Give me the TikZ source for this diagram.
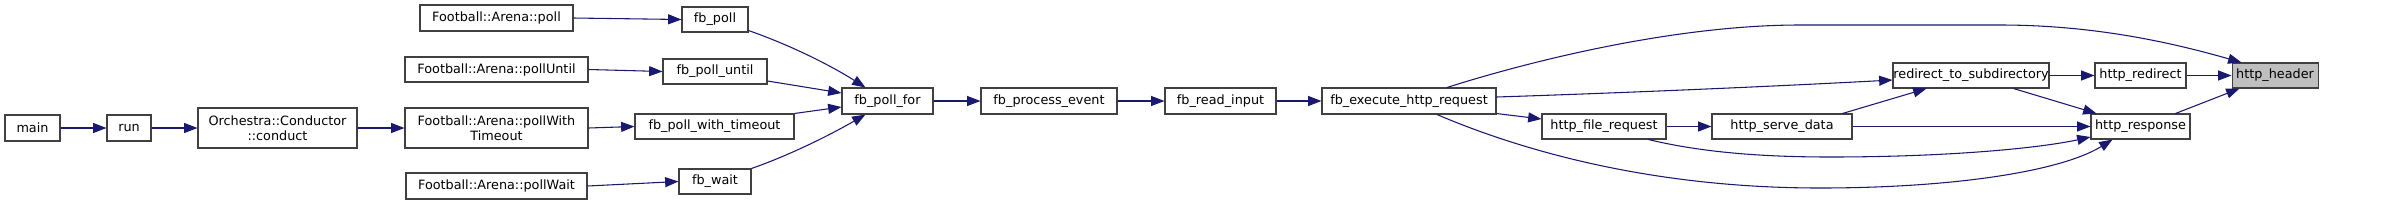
\documentclass[tikz,border=0pt]{standalone}
\usepackage{fontspec}
\setmainfont{DejaVu Sans}
\usetikzlibrary{arrows.meta,calc}
\definecolor{edgeblue}{HTML}{191970}
\definecolor{boxline}{HTML}{404040}
\definecolor{hlfill}{HTML}{BFBFBF}
\tikzset{
  fn/.style={draw=boxline, line width=0.8pt, fill=white, inner sep=0pt, align=center,
    font=\fontsize{9.6}{11.2}\selectfont},
  call/.style={draw=edgeblue, line width=0.8pt, -{Triangle[length=10pt,width=7.5pt]}},
}
\begin{document}
\begin{tikzpicture}[x=0.75pt,y=-0.75pt]
\useasboundingbox (0,0) rectangle (2404,205);
% nodes
\node[fn, minimum width=55*0.75pt, minimum height=26*0.75pt] (main) at (32.5,128) {main};
\node[fn, minimum width=44*0.75pt, minimum height=26*0.75pt] (run) at (129,128) {run};
\node[fn, minimum width=159*0.75pt, minimum height=40*0.75pt] (conduct) at (277.5,128) {Orchestra::Conductor\\::conduct};
\node[fn, minimum width=153*0.75pt, minimum height=26*0.75pt] (apoll) at (496.5,18) {Football::Arena::poll};
\node[fn, minimum width=66*0.75pt, minimum height=25*0.75pt] (fbpoll) at (715,19.5) {fb\_poll};
\node[fn, minimum width=183*0.75pt, minimum height=25*0.75pt] (auntil) at (496.5,69.5) {Football::Arena::pollUntil};
\node[fn, minimum width=104*0.75pt, minimum height=25*0.75pt] (fbuntil) at (715,71.5) {fb\_poll\_until};
\node[fn, minimum width=183*0.75pt, minimum height=40*0.75pt] (atimeout) at (496.5,128) {Football::Arena::pollWith\\Timeout};
\node[fn, minimum width=159*0.75pt, minimum height=25*0.75pt] (fbtimeout) at (714.5,126.5) {fb\_poll\_with\_timeout};
\node[fn, minimum width=181*0.75pt, minimum height=26*0.75pt] (await) at (496.5,186) {Football::Arena::pollWait};
\node[fn, minimum width=72*0.75pt, minimum height=25*0.75pt] (fbwait) at (715,181.5) {fb\_wait};
\node[fn, minimum width=91*0.75pt, minimum height=26*0.75pt] (fbfor) at (887.5,101) {fb\_poll\_for};
\node[fn, minimum width=136*0.75pt, minimum height=26*0.75pt] (fbproc) at (1049,101) {fb\_process\_event};
\node[fn, minimum width=111*0.75pt, minimum height=26*0.75pt] (fbread) at (1220.5,101) {fb\_read\_input};
\node[fn, minimum width=174*0.75pt, minimum height=26*0.75pt] (fbexec) at (1409,101) {fb\_execute\_http\_request};
\node[fn, minimum width=124*0.75pt, minimum height=25*0.75pt] (hfile) at (1604,126.5) {http\_file\_request};
\node[fn, minimum width=140*0.75pt, minimum height=25*0.75pt] (hserve) at (1782,126.5) {http\_serve\_data};
\node[fn, minimum width=156*0.75pt, minimum height=25*0.75pt] (redir) at (1971,75.5) {redirect\_to\_subdirectory};
\node[fn, minimum width=91*0.75pt, minimum height=25*0.75pt] (hredir) at (2140.5,75.5) {http\_redirect};
\node[fn, fill=hlfill, minimum width=86*0.75pt, minimum height=25*0.75pt] (hheader) at (2275,75.5) {http\_header};
\node[fn, minimum width=99*0.75pt, minimum height=25*0.75pt] (hresp) at (2140.5,126.5) {http\_response};
% edges
\draw[call] (main) -- (run);
\draw[call] (run) -- (conduct);
\draw[call] (conduct) -- (atimeout);
\draw[call] (apoll.east) -- (fbpoll.west);
\draw[call] (auntil.east) -- (fbuntil.west);
\draw[call] (atimeout.east) -- (fbtimeout.west);
\draw[call] (await.east) -- (fbwait.west);
\draw[call] ($(fbpoll.south east)+(0,-2)$) .. controls (790,45) and (830,65) .. ($(fbfor.north west)+(24,0)$);
\draw[call] ($(fbuntil.east)+(0,9.5)$) -- ($(fbfor.west)+(0,-8)$);
\draw[call] (fbtimeout.north east) -- ($(fbfor.west)+(0,6)$);
\draw[call] (fbwait.north east) .. controls (790,155) and (830,135) .. ($(fbfor.south west)+(24,0)$);
\draw[call] (fbfor) -- (fbproc);
\draw[call] (fbproc) -- (fbread);
\draw[call] (fbread) -- (fbexec);
\draw[call] ($(fbexec.north)+(38,0)$) .. controls (1540,58) and (1680,25) .. (1800,25) -- (2000,25) .. controls (2100,25) and (2180,45) .. ($(hheader.north west)+(10,0)$);
\draw[call] ($(fbexec.east)+(0,-4)$) .. controls (1650,92) and (1800,85) .. ($(redir.west)+(0,4.5)$);
\draw[call] ($(fbexec.south east)+(0,-1)$) -- ($(hfile.west)+(0,-7.5)$);
\draw[call] ($(fbexec.south)+(28,0)$) .. controls (1520,150) and (1650,188) .. (1820,188) .. controls (1950,188) and (2060,172) .. ($(hresp.south west)+(22,0)$);
\draw[call] (hfile) -- (hserve);
\draw[call] ($(hfile.south east)+(-18,0)$) .. controls (1700,152) and (1760,157) .. (1830,157) .. controls (1950,157) and (2040,148) .. ($(hresp.west)+(0,10.5)$);
\draw[call] ($(hserve.north east)+(-10,0)$) -- ($(redir.south west)+(34,0)$);
\draw[call] (hserve) -- (hresp);
\draw[call] (redir) -- (hredir);
\draw[call] ($(redir.south east)+(-36,0)$) -- ($(hresp.north west)+(6,0)$);
\draw[call] (hredir) -- (hheader);
\draw[call] ($(hresp.north east)+(-15,0)$) -- ($(hheader.south west)+(8,0)$);
\end{tikzpicture}
\end{document}
